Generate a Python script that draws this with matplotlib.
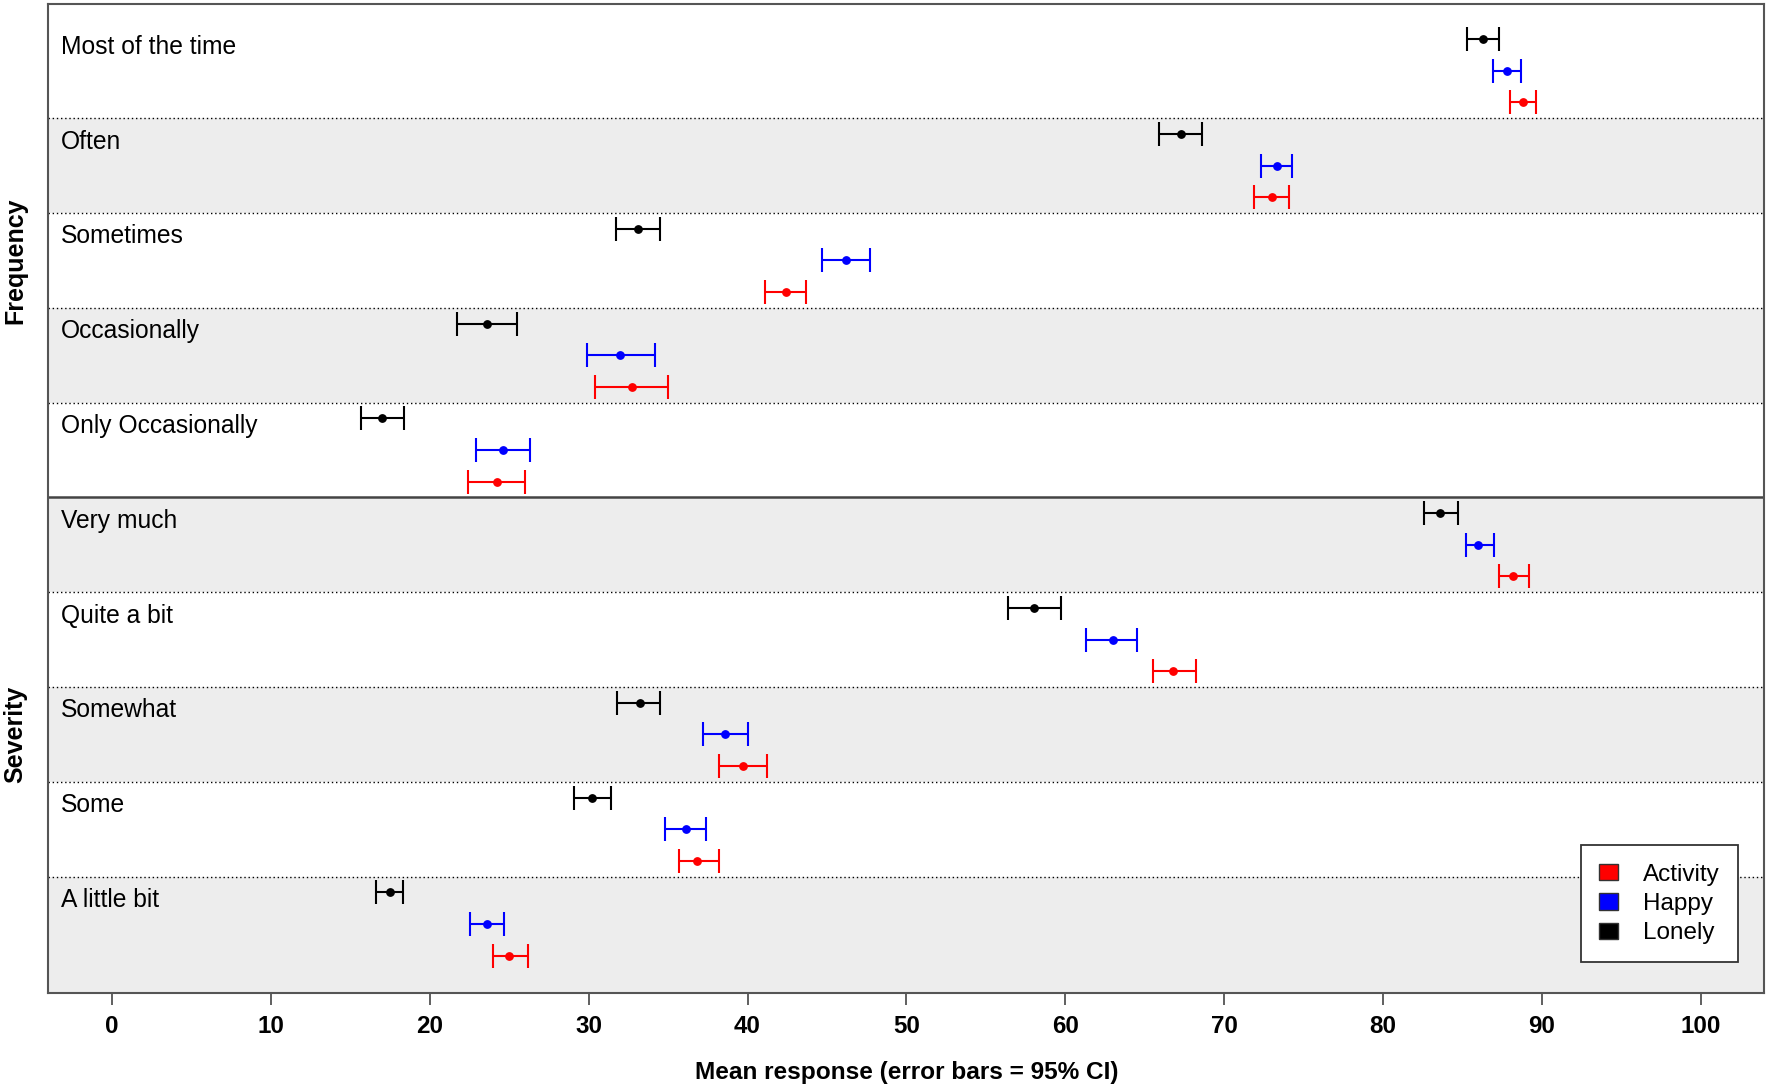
import matplotlib.pyplot as plt
from matplotlib.patches import Patch

plt.rcParams['font.family'] = ['Liberation Sans', 'DejaVu Sans']

# rows, top to bottom
CATEGORIES = ['Most of the time', 'Often', 'Sometimes', 'Occasionally', 'Only Occasionally',
              'Very much', 'Quite a bit', 'Somewhat', 'Some', 'A little bit']
GROUPS = ['Frequency', 'Severity']

# Lonely (black)
lonely_mean = [86.3, 67.3, 33.1, 23.6, 17.0, 83.6, 58.0, 33.2, 30.2, 17.5]
lonely_lo = [85.3, 65.9, 31.7, 21.7, 15.7, 82.6, 56.4, 31.8, 29.1, 16.6]
lonely_hi = [87.3, 68.6, 34.5, 25.5, 18.4, 84.7, 59.7, 34.5, 31.4, 18.3]

# Happy (blue)
happy_mean = [87.8, 73.3, 46.2, 32.0, 24.6, 86.0, 63.0, 38.6, 36.1, 23.6]
happy_lo = [86.9, 72.3, 44.7, 29.9, 22.9, 85.2, 61.3, 37.2, 34.8, 22.5]
happy_hi = [88.7, 74.3, 47.7, 34.2, 26.3, 87.0, 64.5, 40.0, 37.4, 24.7]

# Activity (red)
activity_mean = [88.8, 73.0, 42.4, 32.7, 24.2, 88.2, 66.8, 39.7, 36.8, 25.0]
activity_lo = [88.0, 71.9, 41.1, 30.4, 22.4, 87.3, 65.5, 38.2, 35.7, 24.0]
activity_hi = [89.6, 74.1, 43.7, 35.0, 26.0, 89.2, 68.2, 41.2, 38.2, 26.2]

XTICKS = list(range(0, 101, 10))

series = [
    ('Lonely', 'black', lonely_mean, lonely_lo, lonely_hi, 1 / 6),
    ('Happy', 'blue', happy_mean, happy_lo, happy_hi, 3 / 6),
    ('Activity', 'red', activity_mean, activity_lo, activity_hi, 5 / 6),
]

fig = plt.figure(figsize=(17.7, 10.88), dpi=100)
ax = fig.add_axes([0.0274, 0.0871, 0.9694, 0.9088])
n = len(CATEGORIES)
ax.set_xlim(-4, 104)
ax.set_ylim(n + 0.23, -0.2)

# alternating bands
for i in range(n):
    if i % 2 == 1:
        ax.axhspan(i, i + 1 if i < n - 1 else n + 1, color='#ededed', zorder=0, lw=0)
for i in range(1, n):
    if i == 5:
        ax.axhline(i, color='#444444', lw=1.8, zorder=1)
    else:
        ax.axhline(i, color='black', lw=1.0, ls=(0, (1, 2)), zorder=1)

for name, col, m, lo, hi, off in series:
    ys = [i + off for i in range(n)]
    err = [[a - b for a, b in zip(m, lo)], [b - a for a, b in zip(m, hi)]]
    ax.errorbar(m, ys, xerr=err, fmt='o', color=col, ms=5.3, elinewidth=1.5,
                capsize=8.5, capthick=1.5, zorder=3)

for i, lab in enumerate(CATEGORIES):
    ax.text(-3.2, i + 0.32, lab, ha='left', va='baseline', fontsize=17.7)

ax.annotate(GROUPS[0], xy=(0.0086, 2.5), xycoords=('figure fraction', 'data'),
            rotation=90, ha='center', va='center', fontsize=18, fontweight='bold')
ax.annotate(GROUPS[1], xy=(0.0086, 7.5), xycoords=('figure fraction', 'data'),
            rotation=90, ha='center', va='center', fontsize=18, fontweight='bold')

ax.set_yticks([])
ax.set_xticks(XTICKS)
ax.set_xticklabels([str(t) for t in XTICKS], fontsize=17.4, fontweight='bold')
ax.tick_params(axis='x', length=8.4, width=1.2, pad=7.5, color='#444444')
ax.set_xlabel('Mean response (error bars = 95% CI)', fontsize=17.6, fontweight='bold', labelpad=16)
for sp in ax.spines.values():
    sp.set_color('#555555')
    sp.set_linewidth(1.5)

handles = [Patch(facecolor=c, edgecolor='#333333', label=l)
           for l, c in [('Activity', 'red'), ('Happy', 'blue'), ('Lonely', 'black')]]
leg = ax.legend(handles=handles, loc='upper left', bbox_to_anchor=(0.893, 0.1495),
                borderaxespad=0, fontsize=17.5, fancybox=False, edgecolor='#333333', framealpha=1,
                handlelength=0.8, handleheight=0.65, handletextpad=1.0,
                borderpad=0.75, labelspacing=0.3)
leg.get_frame().set_linewidth(1.3)

fig.savefig('out.png', dpi=100)
